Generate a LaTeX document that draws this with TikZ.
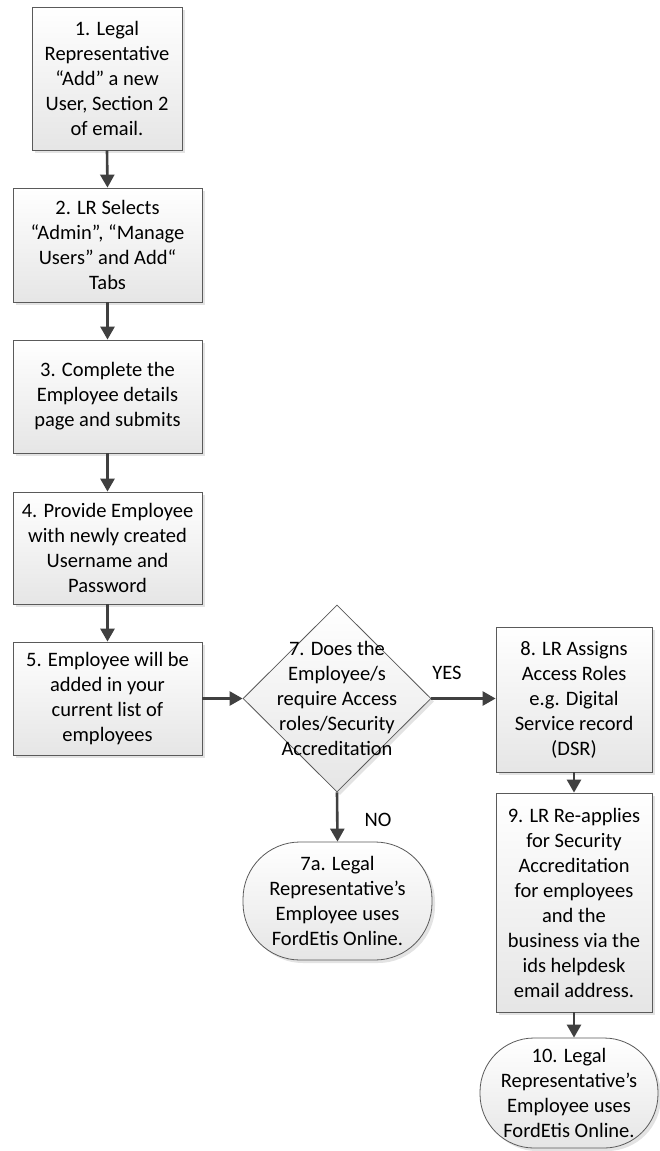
\documentclass[tikz,border=0pt]{standalone}
\usepackage{fontspec}
\setmainfont{Carlito}
\usetikzlibrary{arrows.meta,shapes.geometric,shadows}
\definecolor{edgec}{HTML}{5A5A5A}
\definecolor{arrowc}{HTML}{404040}
\begin{document}
\begin{tikzpicture}[x=1pt,y=-1pt,
  basefont/.style={font=\fontsize{20.5}{25}\selectfont},
  shaded/.style={draw=edgec, line width=0.8pt, top color=white, bottom color=black!10,
    drop shadow={shadow xshift=3pt,shadow yshift=-3pt,fill=black!11,opacity=1}},
  box/.style={shaded, basefont, align=center, inner sep=0pt},
  term/.style={box, rounded corners=57pt},
  dia/.style={shaded, shape=diamond, inner sep=0pt},
  txt/.style={basefont, align=center, inner sep=0pt},
  arr/.style={draw=arrowc, line width=2.6pt, -{Triangle[length=13pt,width=14pt]}}
]
\useasboundingbox (0,0) rectangle (660,1151);
\fill[white] (0,0) rectangle (660,1151);

\node[box, minimum width=150pt, minimum height=143pt] (b1) at (107,78.5)
  {1. Legal\\Representative\\“Add” a new\\User, Section 2\\of email.};
\node[box, minimum width=189pt, minimum height=114pt] (b2) at (107.5,245)
  {2. LR Selects\\“Admin”, “Manage\\Users” and Add“\\Tabs};
\node[box, minimum width=189pt, minimum height=113pt] (b3) at (107.5,396.5)
  {3. Complete the\\Employee details\\page and submits};
\node[box, minimum width=189pt, minimum height=112pt] (b4) at (107.5,548)
  {4. Provide Employee\\with newly created\\Username and\\Password};
\node[box, minimum width=189pt, minimum height=113pt] (b5) at (107.5,698.5)
  {5. Employee will be\\added in your\\current list of\\employees};

\node[dia, minimum width=188pt, minimum height=187pt] (d7) at (337,698.5) {};
\node[txt] (d7t) at (d7) {7. Does the\\Employee/s\\require Access\\roles/Security\\Accreditation};

\node[box, minimum width=156pt, minimum height=145pt] (b8) at (574,699.5)
  {8. LR Assigns\\Access Roles\\e.g. Digital\\Service record\\(DSR)};
\node[box, minimum width=156pt, minimum height=219pt] (b9) at (574,902.5)
  {9. LR Re-applies\\for Security\\Accreditation\\for employees\\and the\\business via the\\ids helpdesk\\email address.};
\node[term, minimum width=189pt, minimum height=118pt] (t7a) at (337.5,901)
  {7a. Legal\\Representative’s\\Employee uses\\FordEtis Online.};
\node[term, rounded corners=54pt, minimum width=178pt, minimum height=110pt] (t10) at (569,1093)
  {10. Legal\\Representative’s\\Employee uses\\FordEtis Online.};

\draw[arr] (b1.south) -- (b2.north);
\draw[arr] (b2.south) -- (b3.north);
\draw[arr] (b3.south) -- (b4.north);
\draw[arr] (b4.south) -- (b5.north);
\draw[arr] (b5.east) -- (d7.west);
\draw[arr] (d7.east) -- (d7.east -| b8.west);
\draw[arr] (d7.south) -- (t7a.north);
\draw[arr] (b8.south) -- (b9.north);
\draw[arr] (b9.south) -- (b9.south |- t10.north);

\node[txt] (yes) at (447,673) {YES};
\node[txt] (no) at (378,820) {NO};
\end{tikzpicture}
\end{document}
